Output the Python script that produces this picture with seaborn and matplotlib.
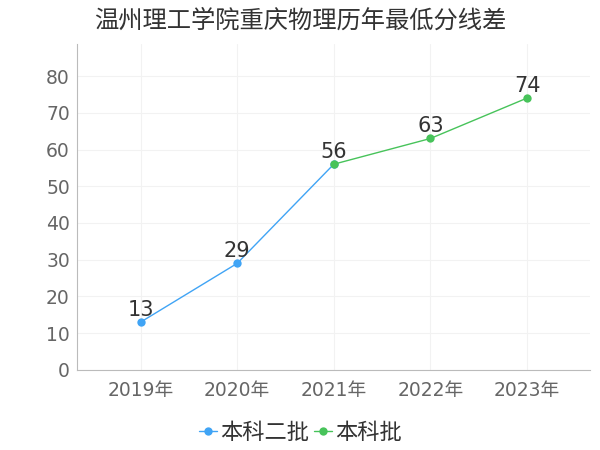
import matplotlib
matplotlib.use("Agg")
from matplotlib import pyplot as plt
import pandas as pd
import seaborn as sns

years = ['2019年', '2020年', '2021年', '2022年', '2023年']
batch2_years = ['2019年', '2020年', '2021年']
batch2_scores = [13, 29, 56]
batch1_years = ['2021年', '2022年', '2023年']
batch1_scores = [56, 63, 74]
series_names = ['本科二批', '本科批']
colors = ['#40a4f5', '#47c35a']

if __name__ == "__main__":
    sns.set_style('white')
    plt.rcParams['font.family'] = ['DejaVu Sans', 'Noto Sans CJK SC']

    pos = {y: i for i, y in enumerate(years)}
    df = pd.concat([
        pd.DataFrame({'x': [pos[y] for y in batch2_years], 'score': batch2_scores, 'series': series_names[0]}),
        pd.DataFrame({'x': [pos[y] for y in batch1_years], 'score': batch1_scores, 'series': series_names[1]}),
    ])

    fig = plt.figure(figsize=(6, 4.5), dpi=100)
    ax = fig.add_axes([0.128, 0.178, 0.855, 0.724])

    sns.lineplot(data=df, x='x', y='score', hue='series', palette=colors, marker='o',
                 markersize=6, markeredgewidth=0, linewidth=1, ax=ax, sort=False)

    labels_x = [pos[y] for y in batch2_years] + [pos[y] for y in batch1_years[1:]]
    labels_y = batch2_scores + batch1_scores[1:]
    for xv, yv in zip(labels_x, labels_y):
        ax.annotate(str(yv), (xv, yv), xytext=(0, 1.5), textcoords='offset points',
                    ha='center', va='bottom', fontsize=15, color='#333333')

    ax.set_xlim(-0.66, 4.65)
    ax.set_ylim(0, 88.7)
    ax.set_xticks(range(len(years)))
    ax.set_xticklabels(years)
    ax.set_yticks(range(0, 81, 10))
    ax.tick_params(axis='both', labelsize=13.5, colors='#666666', length=0, pad=5)
    ax.tick_params(axis='x', length=4, color='#cccccc', direction='out', pad=4)
    ax.grid(True, color='#f2f2f2', linewidth=0.8)
    ax.set_xlabel('')
    ax.set_ylabel('')
    for side in ['top', 'right']:
        ax.spines[side].set_visible(False)
    ax.spines['left'].set_color('#bbbbbb')
    ax.spines['bottom'].set_color('#bbbbbb')

    fig.text(0.5, 0.955, '温州理工学院重庆物理历年最低分线差', fontsize=17.5, color='#333333',
             ha='center', va='center', family=['Noto Sans CJK SC', 'DejaVu Sans'])
    ax.legend(loc='center', bbox_to_anchor=(0.436, -0.193), ncol=2, frameon=False,
              fontsize=16, handlelength=0.8, handletextpad=0.15, columnspacing=0.2,
              labelcolor='#333333')

    plt.savefig('out.png')
